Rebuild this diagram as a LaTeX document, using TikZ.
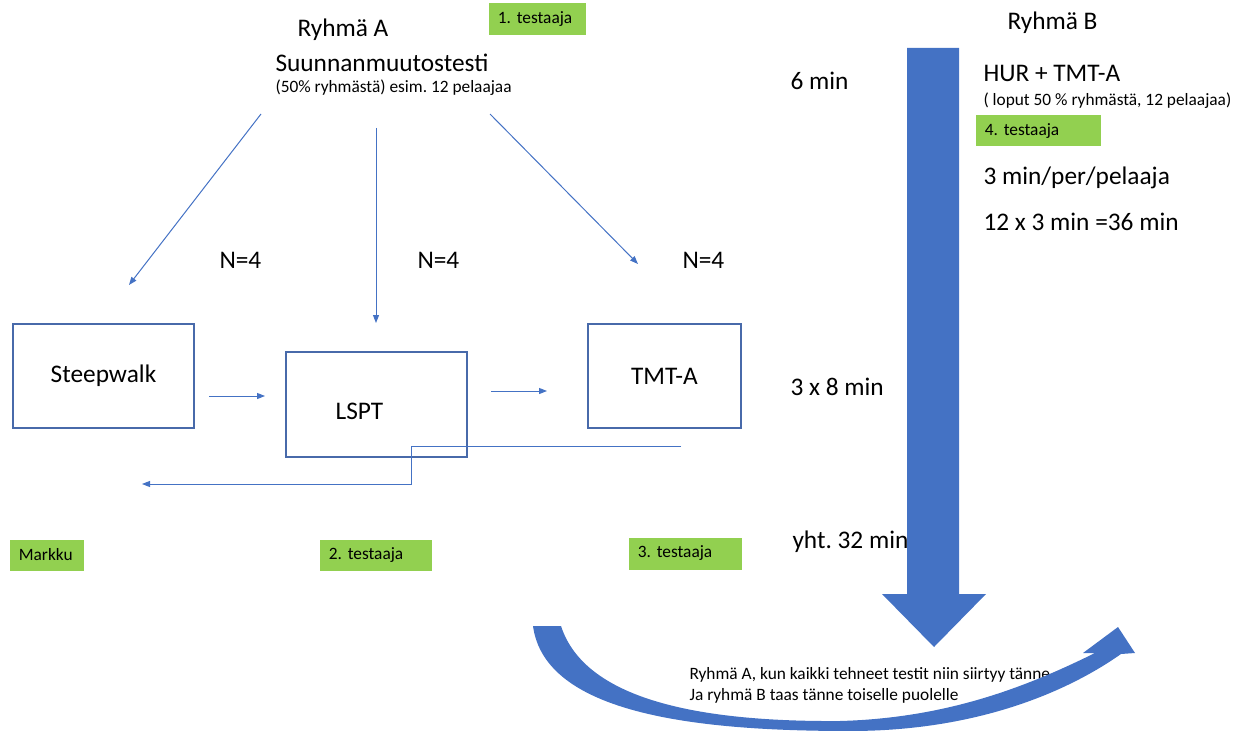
\documentclass[tikz,border=0pt]{standalone}
\usepackage{fontspec}
\setmainfont{Carlito}
\usetikzlibrary{arrows.meta}
\definecolor{arrowblue}{RGB}{68,114,196}
\definecolor{boxblue}{RGB}{72,106,170}
\definecolor{testgreen}{RGB}{146,208,80}
\tikzset{every picture/.style={line width=0.75pt}}
\frenchspacing

\begin{document}
\begin{tikzpicture}[x=0.75pt,y=0.75pt,yscale=-1,xscale=1,
  bigtxt/.style={anchor=base west,inner sep=0pt,font=\fontsize{19}{23}\selectfont},
  smalltxt/.style={anchor=base west,inner sep=0pt,font=\fontsize{13}{16}\selectfont},
  tester/.style={fill=testgreen,anchor=north west,inner xsep=7pt,inner ysep=0pt,align=left,font=\fontsize{13}{16}\selectfont},
  testbox/.style={draw=boxblue,line width=1.1pt,minimum width=135.75pt,minimum height=78pt,inner sep=0pt,font=\fontsize{19}{23}\selectfont},
  flow/.style={draw=arrowblue,line width=0.75pt,-{Triangle[length=6pt,width=4.5pt]}}]
\useasboundingbox (0,0) rectangle (1249,731);

% Text Node
\node[bigtxt] (ryhmaA) at (297,37) {Ryhmä A};
% Text Node
\node[bigtxt] (suunta) at (275,72) {Suunnanmuutostesti};
% Text Node
\node[smalltxt] (puolet) at (275,93) {(50\% ryhmästä) esim. 12 pelaajaa};
% Text Node
\node[bigtxt] (ryhmaB) at (1007,30) {Ryhmä B};
% Text Node
\node[bigtxt] (hur) at (983,82) {HUR + TMT-A};
% Text Node
\node[smalltxt] (loput) at (983,106) {( loput 50 \% ryhmästä, 12 pelaajaa)};
% Text Node
\node[bigtxt] (perpel) at (983,185) {3 min/per/pelaaja};
% Text Node
\node[bigtxt] (yhtB) at (983,230) {12 x 3 min =36 min};
% Text Node
\node[bigtxt] (kuusi) at (790,90) {6 min};
% Text Node
\node[bigtxt] (kolmex) at (790,395) {3 x 8 min};
% Text Node
\node[bigtxt] (yhtA) at (792,548) {yht. 32 min};

% Text Node
\node[bigtxt] (n1) at (219,268) {N=4};
% Text Node
\node[bigtxt] (n2) at (417,268) {N=4};
% Text Node
\node[bigtxt] (n3) at (682,268) {N=4};

%Shape: Rectangle
\node[testbox] (steep) at (103.5,376) {Steepwalk};
%Shape: Rectangle
\node[testbox,minimum height=78.75pt,label={[xshift=-12.75pt,yshift=-5.25pt,font=\fontsize{19}{23}\selectfont]center:LSPT}] (lspt) at (376.5,404.5) {};
%Shape: Rectangle
\node[testbox,minimum width=114.75pt] (tmt) at (664.5,376) {TMT-A};

% Green labels
\node[tester,text width=58.75pt,minimum height=24pt] (t1) at (488,3) {1. testaaja};
\node[tester,text width=79.75pt,minimum height=23.25pt] (t4) at (975,115) {4. testaaja};
\node[tester,text width=41.5pt,minimum height=23.25pt] (markku) at (9,539) {Markku};
\node[tester,text width=70pt,minimum height=23.25pt] (t2) at (319,539) {2. testaaja};
\node[tester,text width=70.75pt,minimum height=24pt] (t3) at (628,537) {3. testaaja};

% Text Node
\node[smalltxt] (swap1) at (689,679) {Ryhmä A, kun kaikki tehneet testit niin siirtyy tänne};
% Text Node
\node[smalltxt] (swap2) at (689,700) {Ja ryhmä B taas tänne toiselle puolelle};

% connector ends
\coordinate (oL) at (261,114);
\coordinate (oM) at (376,128);
\coordinate (oR) at (490,114);
\coordinate (eL) at (129,285);
\coordinate (eM) at (376,323);
\coordinate (eR) at (638,264);
\coordinate (h1a) at (209,396);
\coordinate (h1b) at (265,396);
\coordinate (h2a) at (491,391);
\coordinate (h2b) at (547,391);
\coordinate (back) at (681,446);
\coordinate (kink) at (411,446);
\coordinate (backend) at (142,484);

\draw[flow] (oL) -- (eL);
\draw[flow] (oM) -- (eM);
\draw[flow] (oR) -- (eR);
\draw[flow] (h1a) -- (h1b);
\draw[flow] (h2a) -- (h2b);
\draw[flow] (back) -- (kink) -- (kink |- backend) -- (backend);

%Down Arrow
\fill[arrowblue] (907,48) -- (959,48) -- (959,594) -- (986,594) -- (934,647) -- (882,594) -- (907,594) -- cycle;

%Curved Up Arrow
\fill[arrowblue] (533,626) .. controls (545,715) and (700,731) .. (850,731)
  .. controls (980,731) and (1070,690) .. (1121,654)
  -- (1135,653) -- (1118,627) -- (1083,653) -- (1095,653)
  .. controls (1030,685) and (950,718) .. (840,721)
  .. controls (700,722) and (585,700) .. (561,626) -- cycle;

\end{tikzpicture}
\end{document}
